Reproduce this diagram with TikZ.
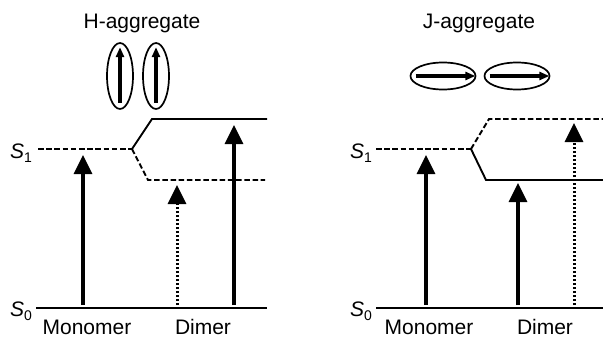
\documentclass[tikz,border=0pt]{standalone}
\usepackage{fontspec}
\setmainfont{Liberation Sans}
\usetikzlibrary{arrows.meta, shapes.geometric}

\newcommand{\statelabel}[1]{\textit{S}\raisebox{-4pt}{\fontsize{14}{14}\selectfont #1}}

\tikzset{
  bandsolid/.style={line width=1.9pt},
  banddash/.style={line width=1.9pt, dash pattern=on 5.5pt off 2.7pt},
  absorb/.style={line width=3.2pt, -{Triangle[length=19pt, width=18pt]}},
  forbidden/.style={absorb, line width=3pt, dash pattern=on 2.5pt off 1.5pt},
  dipole/.style={ellipse, draw, line width=1.7pt, inner sep=0pt},
  moment/.style={line width=3.4pt, -{Triangle[length=10pt, width=8pt]}},
  lbl/.style={font=\fontsize{21}{25}\selectfont, inner sep=0pt, anchor=base},
}

\begin{document}
\begin{tikzpicture}[x=1pt, y=-1pt]
  \useasboundingbox (0,0) rectangle (603,337);

  % --- H-aggregate (left) ---
  % Title and the two stacked dipoles
  \node[lbl] (htitle) at (142,29) {H-aggregate};
  \node[dipole, minimum width=26pt, minimum height=66pt] (hdip1) at (120,76) {};
  \node[dipole, minimum width=26pt, minimum height=66pt] (hdip2) at (156,76) {};
  \draw[moment] ([yshift=7pt]hdip1.south) -- ([yshift=-5pt]hdip1.north);
  \draw[moment] ([yshift=7pt]hdip2.south) -- ([yshift=-5pt]hdip2.north);

  % Energy levels
  \draw[banddash] (38,149) -- (132,149);
  \draw[bandsolid] (132,149) -- (152,119) -- (267,119);
  \draw[banddash] (132,149) -- (148,180) -- (265,180);
  \draw[bandsolid] (36,308) -- (267,308);

  % State labels
  \node[lbl, anchor=base west] (hs1) at (10,158) {\statelabel{1}};
  \node[lbl, anchor=base west] (hs0) at (10,316) {\statelabel{0}};

  % Transitions
  \coordinate (hmono0) at (83,305);
  \coordinate (hmono1) at (83,155);
  \coordinate (hlow0)  at (177,305);
  \coordinate (hlow1)  at (177,185);
  \coordinate (hup0)   at (234,305);
  \coordinate (hup1)   at (234,125);
  \draw[absorb]    (hmono0) -- (hmono1);
  \draw[forbidden] (hlow0) -- (hlow1);
  \draw[absorb]    (hup0) -- (hup1);

  \node[lbl] (hmono) at (87,334)  {Monomer};
  \node[lbl] (hdimer) at (203,334) {Dimer};

  % --- J-aggregate (right) ---
  % Title and the two head-to-tail dipoles
  \node[lbl] (jtitle) at (479,29) {J-aggregate};
  \node[dipole, minimum width=65pt, minimum height=27pt] (jdip1) at (443,76) {};
  \node[dipole, minimum width=65pt, minimum height=27pt] (jdip2) at (517,76) {};
  \draw[moment] ([xshift=6pt]jdip1.west) -- ([xshift=-1pt]jdip1.east);
  \draw[moment] ([xshift=6pt]jdip2.west) -- ([xshift=-1pt]jdip2.east);

  % Energy levels
  \draw[banddash] (376,149) -- (471,149);
  \draw[banddash] (471,149) -- (489,119) -- (603,119);
  \draw[bandsolid] (471,149) -- (486,180) -- (603,180);
  \draw[bandsolid] (376,308) -- (603,308);

  % State labels
  \node[lbl, anchor=base west] (js1) at (350,158) {\statelabel{1}};
  \node[lbl, anchor=base west] (js0) at (350,316) {\statelabel{0}};

  % Transitions
  \coordinate (jmono0) at (426,305);
  \coordinate (jmono1) at (426,155);
  \coordinate (jlow0)  at (518,305);
  \coordinate (jlow1)  at (518,183);
  \coordinate (jup0)   at (574,305);
  \coordinate (jup1)   at (574,123);
  \draw[absorb]    (jmono0) -- (jmono1);
  \draw[absorb]    (jlow0) -- (jlow1);
  \draw[forbidden] (jup0) -- (jup1);

  \node[lbl] (jmono) at (429,334)  {Monomer};
  \node[lbl] (jdimer) at (545,334) {Dimer};
\end{tikzpicture}
\end{document}
